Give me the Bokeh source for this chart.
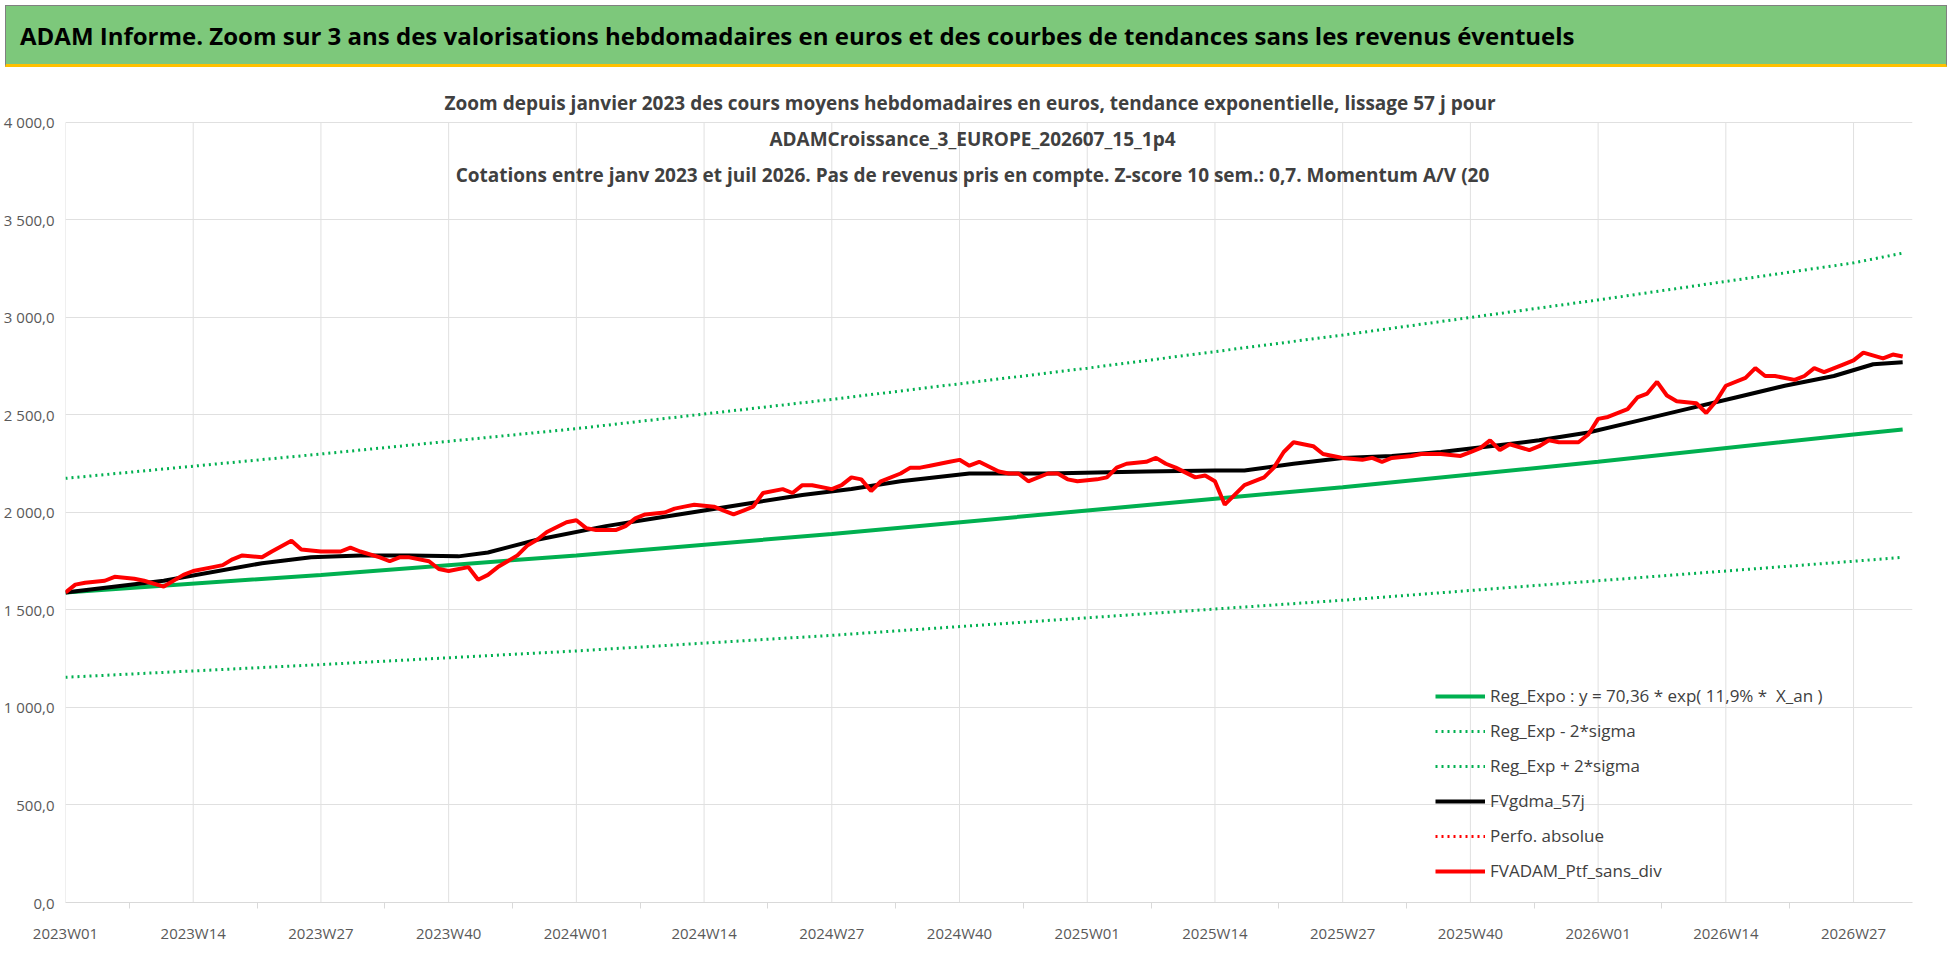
from bokeh.embed import file_html
from bokeh.layouts import column
from bokeh.models import (Div, FixedTicker, Label, Legend, LegendItem, Range1d)
from bokeh.plotting import figure
from bokeh.resources import INLINE

FONT = "Open Sans"

# week index since 2023W01
red_weeks = [0, 1, 2, 4, 5, 7, 8, 10, 12, 13, 15, 16, 17, 18, 20, 21, 23, 24, 26, 28,
             29, 30, 32, 33, 34, 35, 37, 38, 39, 41, 42, 43, 44, 46, 47, 48, 49, 51, 52, 53,
             54, 56, 57, 58, 59, 61, 62, 63, 64, 66, 67, 68, 69, 70, 71, 73, 74, 75, 76, 78,
             79, 80, 81, 82, 83, 85, 86, 87, 88, 90, 91, 92, 93, 95, 96, 97, 98, 100, 101, 102,
             103, 105, 106, 107, 108, 110, 111, 112, 113, 115, 116, 117, 118, 119, 120, 122, 123, 124, 125, 127,
             128, 129, 130, 132, 133, 134, 135, 137, 138, 139, 140, 142, 143, 144, 145, 146, 147, 149, 150, 151,
             152, 154, 155, 156, 157, 159, 160, 161, 162, 163, 164, 166, 167, 168, 169, 171, 172, 173, 174, 176,
             177, 178, 179, 181, 182, 183, 185, 186, 187]
red_vals = [1590, 1630, 1640, 1650, 1670, 1660, 1650, 1620, 1680, 1700, 1720, 1730, 1760, 1780, 1770, 1800, 1855, 1810, 1800, 1800,
            1820, 1800, 1770, 1750, 1770, 1770, 1750, 1710, 1700, 1720, 1655, 1680, 1720, 1780, 1830, 1860, 1900, 1950, 1960, 1920,
            1910, 1910, 1930, 1970, 1990, 2000, 2020, 2030, 2040, 2030, 2010, 1990, 2010, 2030, 2100, 2120, 2100, 2140, 2140, 2120,
            2140, 2180, 2170, 2110, 2160, 2200, 2230, 2230, 2240, 2260, 2270, 2240, 2260, 2210, 2200, 2200, 2160, 2200, 2200, 2170,
            2160, 2170, 2180, 2230, 2250, 2260, 2280, 2250, 2230, 2180, 2190, 2160, 2040, 2090, 2140, 2180, 2230, 2310, 2360, 2340,
            2300, 2290, 2280, 2270, 2280, 2260, 2280, 2290, 2300, 2300, 2300, 2290, 2310, 2330, 2370, 2320, 2350, 2320, 2340, 2370,
            2360, 2360, 2400, 2480, 2490, 2530, 2590, 2610, 2670, 2600, 2570, 2560, 2510, 2570, 2650, 2690, 2740, 2700, 2700, 2680,
            2700, 2740, 2720, 2760, 2780, 2820, 2790, 2810, 2800]

black_weeks = [0, 10, 20, 25, 30, 35, 40, 43, 48, 55, 60, 65, 70, 75, 80, 85, 92, 100, 110, 117,
               120, 125, 130, 135, 140, 145, 150, 155, 160, 165, 170, 175, 180, 184, 187]
black_vals = [1590, 1650, 1740, 1770, 1780, 1780, 1775, 1795, 1860, 1930, 1970, 2010, 2050, 2090, 2120, 2160, 2200, 2200, 2210, 2215,
              2215, 2250, 2280, 2290, 2310, 2340, 2370, 2410, 2470, 2530, 2590, 2650, 2700, 2760, 2770]

trend_weeks = [0, 26, 52, 78, 104, 130, 156, 182, 187]
trend_vals = [1590, 1680, 1780, 1890, 2010, 2130, 2260, 2400, 2425]
upper_vals = [2175, 2300, 2430, 2580, 2740, 2910, 3090, 3280, 3330]
lower_vals = [1155, 1220, 1290, 1370, 1460, 1550, 1650, 1750, 1770]

tick_weeks = [0, 13, 26, 39, 52, 65, 78, 91, 104, 117, 130, 143, 156, 169, 182]
tick_labels = ["2023W01", "2023W14", "2023W27", "2023W40", "2024W01", "2024W14", "2024W27", "2024W40",
               "2025W01", "2025W14", "2025W27", "2025W40", "2026W01", "2026W14", "2026W27"]
y_ticks = [0, 500, 1000, 1500, 2000, 2500, 3000, 3500, 4000]
y_labels = ["0,0", "500,0", "1 000,0", "1 500,0", "2 000,0", "2 500,0", "3 000,0", "3 500,0", "4 000,0"]
y_top = 4000

GREEN = "#00b050"
RED = "#ff0000"

header = Div(
    text="ADAM Informe. Zoom sur 3 ans des valorisations hebdomadaires en euros et des courbes de tendances sans les revenus éventuels",
    width=1942, height=62,
    styles={"background-color": "#7dc87b", "font-family": FONT, "font-weight": "bold",
            "font-size": "24px", "color": "black", "padding-left": "14px", "line-height": "60px",
            "box-sizing": "border-box", "width": "1942px", "border": "1px solid #808080",
            "border-bottom": "3px solid #ffc000"},
)

p = figure(width=1942, height=901, output_backend="svg", toolbar_location=None,
           x_range=Range1d(0, 188), y_range=Range1d(0, 4164),
           min_border_left=65, min_border_right=30, min_border_top=18, min_border_bottom=71,
           outline_line_color=None, border_fill_color="white")
p.xaxis.ticker = FixedTicker(ticks=tick_weeks, minor_ticks=[w + 6.5 for w in tick_weeks])
p.xaxis.major_label_overrides = dict(zip(tick_weeks, tick_labels))
p.yaxis.ticker = FixedTicker(ticks=y_ticks)
p.yaxis.major_label_overrides = dict(zip(y_ticks, y_labels))
for ax in (p.xaxis, p.yaxis):
    ax.major_label_text_font = FONT
    ax.major_label_text_font_size = "15px"
    ax.major_label_text_color = "#595959"
p.xaxis.axis_line_color = "#d9d9d9"
p.xaxis.major_tick_line_color = None
p.xaxis.minor_tick_line_color = "#d9d9d9"
p.xaxis.minor_tick_in = 0
p.xaxis.minor_tick_out = 6
p.xaxis.major_label_standoff = 14
p.yaxis.axis_line_color = None
p.yaxis.major_tick_line_color = None
p.yaxis.minor_tick_line_color = None
p.xgrid.grid_line_color = None
p.ygrid.grid_line_color = "#e0e0e0"
p.segment(x0=tick_weeks, y0=0, x1=tick_weeks, y1=y_top, line_color="#e0e0e0", line_width=1)

r_trend = p.line(trend_weeks, trend_vals, line_color=GREEN, line_width=4)
r_low = p.line(trend_weeks, lower_vals, line_color=GREEN, line_width=3, line_dash="2 4")
r_up = p.line(trend_weeks, upper_vals, line_color=GREEN, line_width=3, line_dash="2 4")
r_black = p.line(black_weeks, black_vals, line_color="black", line_width=4)
r_perf = p.line([0, 1], [-500, -500], line_color=RED, line_width=3, line_dash="2 4")
r_red = p.line(red_weeks, red_vals, line_color=RED, line_width=4)

legend = Legend(items=[
    LegendItem(label="Reg_Expo : y = 70,36 * exp( 11,9% *  X_an )", renderers=[r_trend]),
    LegendItem(label="Reg_Exp - 2*sigma", renderers=[r_low]),
    LegendItem(label="Reg_Exp + 2*sigma", renderers=[r_up]),
    LegendItem(label="FVgdma_57j", renderers=[r_black]),
    LegendItem(label="Perfo. absolue", renderers=[r_perf]),
    LegendItem(label="FVADAM_Ptf_sans_div", renderers=[r_red]),
], location=(1370, 20), label_text_font=FONT, label_text_font_size="17px",
    label_text_color="#404040", glyph_width=50, spacing=12, border_line_color=None,
    background_fill_alpha=0)
p.add_layout(legend)

subtitle = ["Zoom depuis janvier 2023 des cours moyens hebdomadaires  en euros, tendance exponentielle, lissage 57 j pour",
            "ADAMCroissance_3_EUROPE_202607_15_1p4",
            "Cotations entre janv 2023 et juil 2026. Pas de revenus pris en compte. Z-score 10 sem.: 0,7. Momentum A/V (20"]
for i, line in enumerate(subtitle):
    p.add_layout(Label(x=907, y=800 - 36 * i, x_units="screen", y_units="screen", text=line,
                       text_align="center", text_baseline="middle", text_font=FONT,
                       text_font_size="19px", text_font_style="bold", text_color="#404040"))

page = column(header, p, spacing=0)
open("out.html", "w").write(file_html(page, INLINE))
